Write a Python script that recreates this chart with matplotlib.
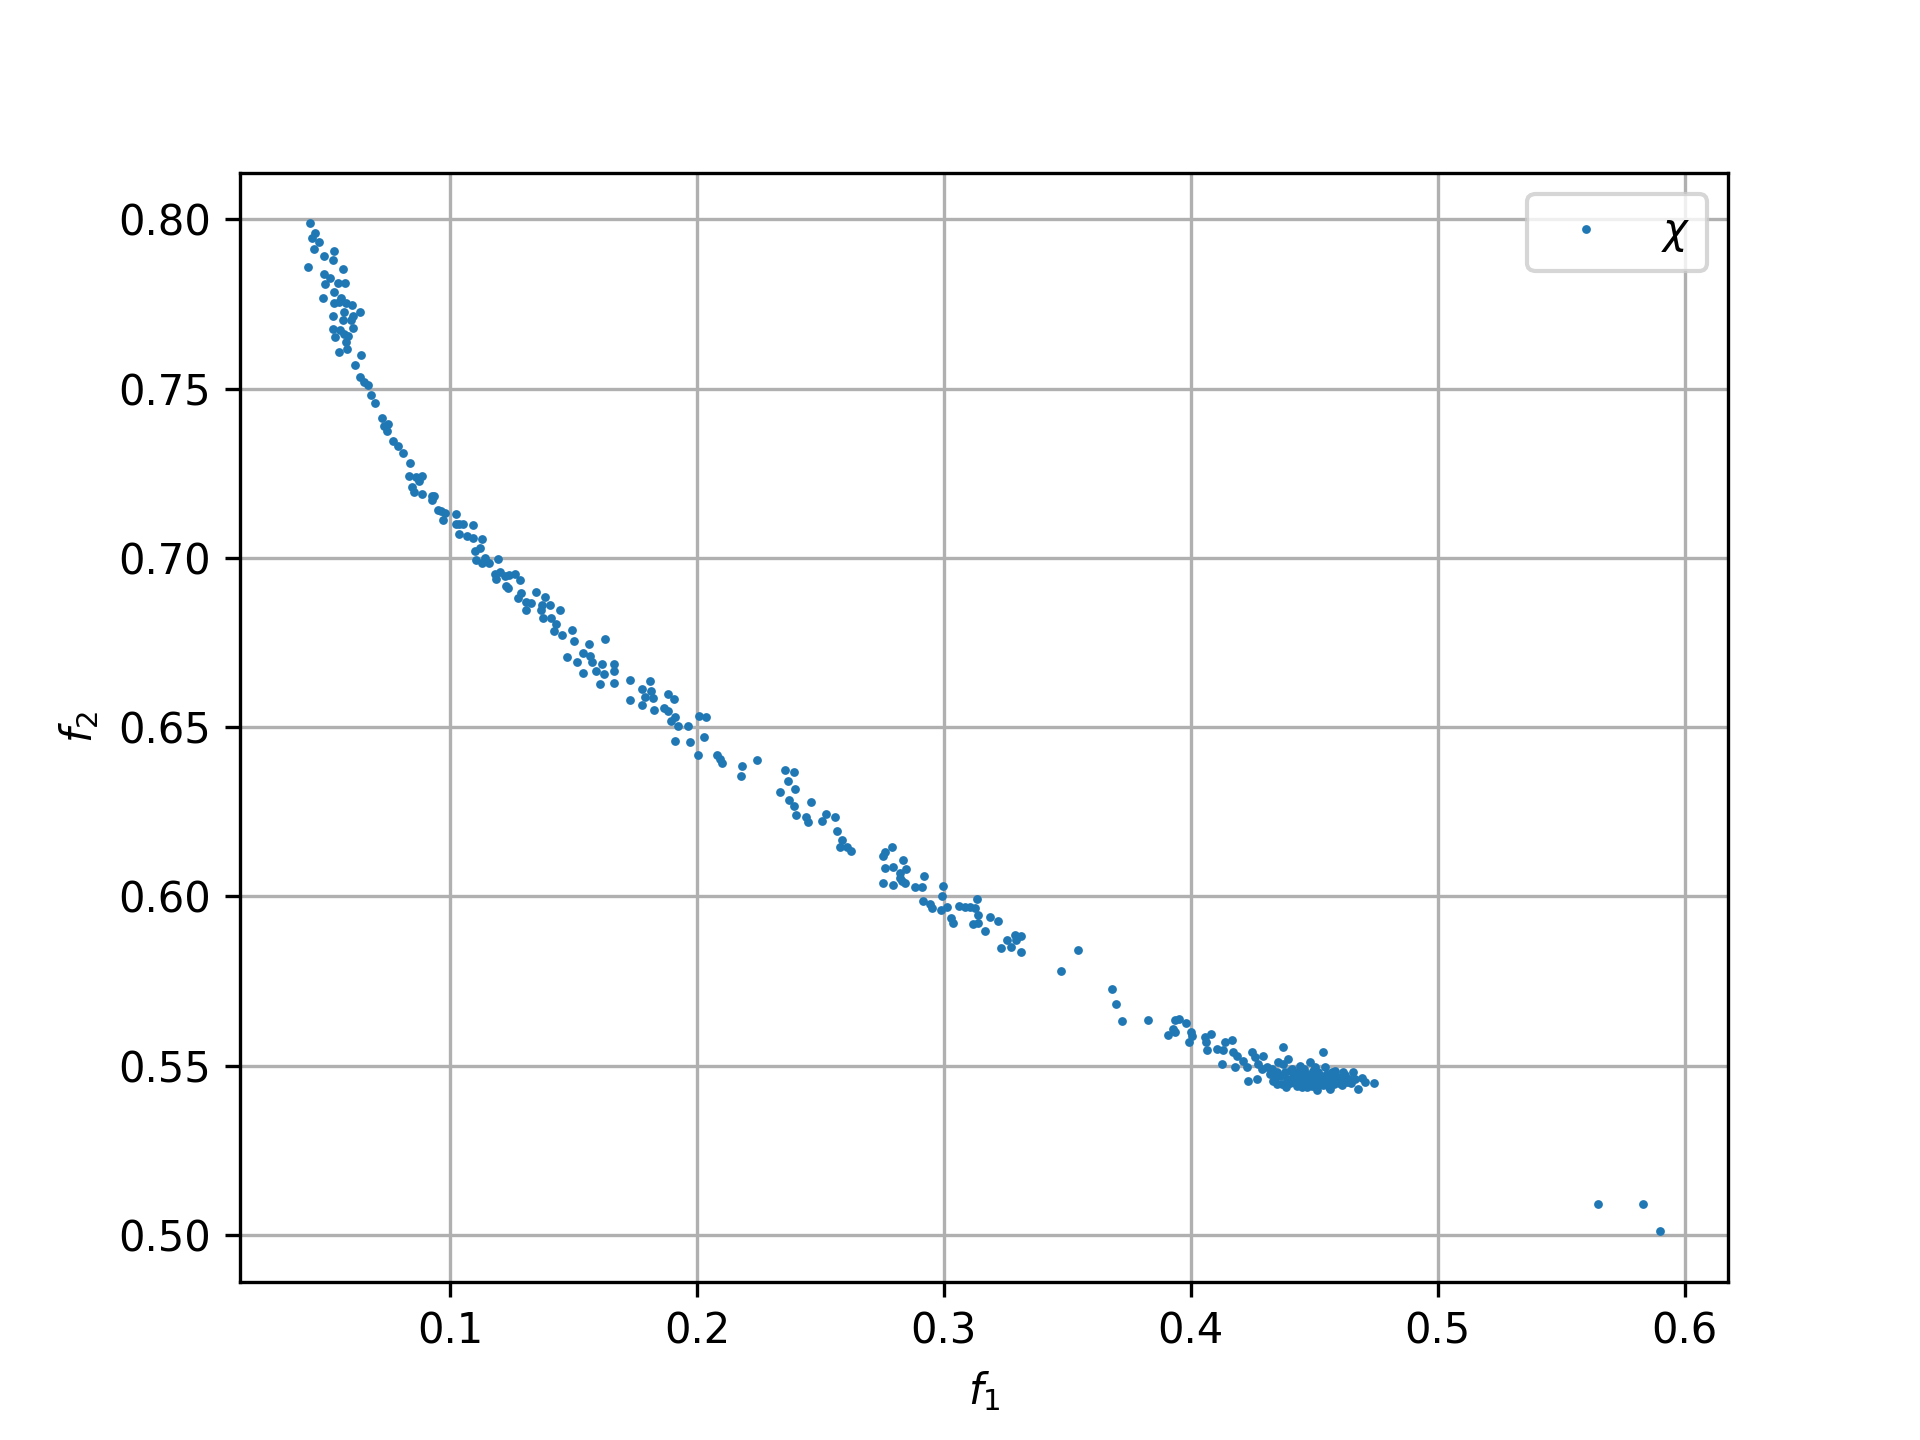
import matplotlib
matplotlib.use("Agg")
from matplotlib import pyplot as plt
import numpy as np

# f1 / f2 values, roughly from top-left to bottom-right
f1_top = [0.0434, 0.0454, 0.0441, 0.0471, 0.0450, 0.0531, 0.0491, 0.0527, 0.0423, 0.0565,
          0.0491, 0.0514, 0.0495, 0.0545, 0.0576, 0.0529, 0.0487, 0.0558, 0.0531, 0.0552,
          0.0579, 0.0603, 0.0572, 0.0635, 0.0527, 0.0606, 0.0565, 0.0599, 0.0525, 0.0554,
          0.0606, 0.0534, 0.0572, 0.0585, 0.0579, 0.0552, 0.0581, 0.0639, 0.0616, 0.0637,
          0.0653, 0.0667, 0.0680]
f2_top = [0.7989, 0.7960, 0.7945, 0.7933, 0.7912, 0.7908, 0.7892, 0.7879, 0.7859, 0.7853,
          0.7839, 0.7826, 0.7809, 0.7813, 0.7813, 0.7786, 0.7767, 0.7767, 0.7752, 0.7757,
          0.7754, 0.7747, 0.7727, 0.7727, 0.7716, 0.7714, 0.7702, 0.7702, 0.7676, 0.7673,
          0.7678, 0.7653, 0.7661, 0.7655, 0.7638, 0.7608, 0.7618, 0.7601, 0.7569, 0.7536,
          0.7519, 0.7512, 0.7480]

f1_upper = [0.0697, 0.0724, 0.0734, 0.0747, 0.0743, 0.0770, 0.0788, 0.0811, 0.0838, 0.0835,
            0.0862, 0.0886, 0.0873, 0.0846, 0.0855, 0.0885, 0.0926, 0.0936, 0.0927, 0.0950,
            0.0963, 0.0981, 0.0970, 0.1022, 0.1022, 0.1038, 0.1051, 0.1092, 0.1035, 0.1067,
            0.1092, 0.1128, 0.1122, 0.1099, 0.1103, 0.1142, 0.1193, 0.1130, 0.1159, 0.1180,
            0.1203, 0.1186, 0.1224, 0.1240, 0.1261, 0.1285,
            0.1225, 0.1234, 0.1275, 0.1288, 0.1309, 0.1329, 0.1349, 0.1306]
f2_upper = [0.7458, 0.7414, 0.7391, 0.7396, 0.7375, 0.7347, 0.7332, 0.7309, 0.7280, 0.7241,
            0.7238, 0.7243, 0.7228, 0.7211, 0.7195, 0.7188, 0.7183, 0.7183, 0.7172, 0.7141,
            0.7139, 0.7134, 0.7111, 0.7129, 0.7101, 0.7099, 0.7099, 0.7097, 0.7070, 0.7065,
            0.7058, 0.7057, 0.7030, 0.7022, 0.6995, 0.7000, 0.6998, 0.6985, 0.6985, 0.6953,
            0.6959, 0.6939, 0.6946, 0.6949, 0.6953, 0.6936,
            0.6916, 0.6911, 0.6881, 0.6896, 0.6871, 0.6866, 0.6899, 0.6846]

f1_mid = [0.1386, 0.1373, 0.1403, 0.1369, 0.1376, 0.1409, 0.1427, 0.1447, 0.1419, 0.1454,
          0.1493, 0.1500, 0.1562, 0.1629, 0.1474, 0.1513, 0.1538, 0.1565, 0.1574, 0.1540,
          0.1589, 0.1616, 0.1662, 0.1662, 0.1625, 0.1609, 0.1662, 0.1727, 0.1727, 0.1777,
          0.1808, 0.1815, 0.1788, 0.1821, 0.1777, 0.1824, 0.1882, 0.1906, 0.1865, 0.1882,
          0.1909, 0.1896, 0.1923, 0.1963, 0.2008, 0.2035, 0.2027, 0.1909, 0.1970,
          0.2004, 0.2081, 0.2092, 0.2102, 0.2184, 0.2244, 0.2180]
f2_mid = [0.6884, 0.6862, 0.6862, 0.6847, 0.6824, 0.6824, 0.6804, 0.6845, 0.6783, 0.6773,
          0.6788, 0.6755, 0.6746, 0.6761, 0.6708, 0.6694, 0.6718, 0.6711, 0.6694, 0.6661,
          0.6667, 0.6687, 0.6687, 0.6667, 0.6656, 0.6627, 0.6631, 0.6639, 0.6580, 0.6612,
          0.6636, 0.6606, 0.6590, 0.6587, 0.6565, 0.6550, 0.6598, 0.6583, 0.6558, 0.6547,
          0.6530, 0.6517, 0.6505, 0.6505, 0.6533, 0.6530, 0.6471, 0.6458, 0.6456,
          0.6419, 0.6419, 0.6406, 0.6394, 0.6384, 0.6404, 0.6355]

f1_lower = [0.2355, 0.2392, 0.2369, 0.2335, 0.2396, 0.2373, 0.2392, 0.2461, 0.2400, 0.2440,
            0.2450, 0.2507, 0.2521, 0.2558, 0.2567, 0.2589, 0.2578, 0.2608, 0.2623, 0.2754,
            0.2761, 0.2788, 0.2835, 0.2761, 0.2794, 0.2848, 0.2821, 0.2821, 0.2832, 0.2844,
            0.2919, 0.2754, 0.2794, 0.2882, 0.2913, 0.2997, 0.2994,
            0.2917, 0.2944, 0.2950, 0.2988, 0.3011, 0.3063, 0.3085, 0.3106, 0.3126, 0.3135,
            0.3140, 0.3029, 0.3038, 0.3119, 0.3140, 0.3167,
            0.3186, 0.3220, 0.3256, 0.3287, 0.3291, 0.3314, 0.3231, 0.3270, 0.3312, 0.3544,
            0.3474, 0.3679, 0.3697, 0.3722]
f2_lower = [0.6375, 0.6367, 0.6342, 0.6310, 0.6316, 0.6286, 0.6268, 0.6278, 0.6241, 0.6236,
            0.6219, 0.6222, 0.6245, 0.6235, 0.6194, 0.6166, 0.6147, 0.6147, 0.6134, 0.6120,
            0.6130, 0.6146, 0.6108, 0.6085, 0.6088, 0.6082, 0.6068, 0.6055, 0.6045, 0.6040,
            0.6060, 0.6040, 0.6033, 0.6028, 0.6028, 0.6031, 0.6001,
            0.5986, 0.5979, 0.5966, 0.5961, 0.5969, 0.5973, 0.5969, 0.5969, 0.5966, 0.5991,
            0.5944, 0.5936, 0.5921, 0.5919, 0.5921, 0.5899,
            0.5939, 0.5926, 0.5870, 0.5885, 0.5870, 0.5882, 0.5847, 0.5852, 0.5835, 0.5842,
            0.5781, 0.5727, 0.5681, 0.5631]

f1_tail = [0.3828, 0.3936, 0.3954, 0.3981, 0.3930, 0.3936, 0.3907, 0.4000, 0.4004, 0.3994,
           0.4058, 0.4081, 0.4062, 0.4065, 0.4108, 0.4130, 0.4139, 0.4126,
           0.4166, 0.4173, 0.4186, 0.4179, 0.4213, 0.4227, 0.4233, 0.4247, 0.4260, 0.4294,
           0.4274, 0.4287, 0.4267, 0.4308, 0.4321, 0.4335, 0.4348, 0.4355, 0.4375, 0.4375,
           0.4395, 0.4402, 0.4416, 0.4429, 0.4443, 0.4449, 0.4463, 0.4470, 0.4483, 0.4497,
           0.4510, 0.4510, 0.4524, 0.4537, 0.4544, 0.4551, 0.4564, 0.4564, 0.4585, 0.4605,
           0.4618, 0.4632, 0.4659, 0.4666, 0.4679, 0.4693, 0.4706, 0.4743,
           0.4330, 0.4360, 0.4380, 0.4390, 0.4410, 0.4420, 0.4430, 0.4440, 0.4455, 0.4460,
           0.4470, 0.4480, 0.4490, 0.4500, 0.4505, 0.4515, 0.4520, 0.4530, 0.4540, 0.4550,
           0.4560, 0.4570, 0.4575, 0.4590, 0.4600, 0.4610, 0.4625, 0.4640, 0.4400, 0.4370,
           0.4350, 0.4340, 0.4440, 0.4465,
           0.4385, 0.4415, 0.4435, 0.4452, 0.4478, 0.4493, 0.4512, 0.4535, 0.4558, 0.4580,
           0.4612, 0.4650]
f2_tail = [0.5634, 0.5636, 0.5639, 0.5627, 0.5609, 0.5599, 0.5592, 0.5599, 0.5589, 0.5571,
           0.5584, 0.5594, 0.5569, 0.5545, 0.5550, 0.5545, 0.5569, 0.5505,
           0.5576, 0.5540, 0.5530, 0.5495, 0.5515, 0.5495, 0.5455, 0.5540, 0.5525, 0.5530,
           0.5505, 0.5490, 0.5460, 0.5495, 0.5475, 0.5455, 0.5446, 0.5510, 0.5505, 0.5556,
           0.5520, 0.5485, 0.5465, 0.5441, 0.5500, 0.5475, 0.5455, 0.5436, 0.5510, 0.5485,
           0.5465, 0.5428, 0.5455, 0.5540, 0.5495, 0.5475, 0.5446, 0.5431, 0.5485, 0.5465,
           0.5480, 0.5451, 0.5480, 0.5460, 0.5431, 0.5465, 0.5451, 0.5449,
           0.5490, 0.5470, 0.5480, 0.5460, 0.5490, 0.5475, 0.5455, 0.5485, 0.5465, 0.5490,
           0.5475, 0.5460, 0.5470, 0.5450, 0.5495, 0.5480, 0.5445, 0.5470, 0.5460, 0.5450,
           0.5470, 0.5480, 0.5455, 0.5470, 0.5450, 0.5462, 0.5472, 0.5462, 0.5450, 0.5445,
           0.5480, 0.5465, 0.5445, 0.5440,
           0.5438, 0.5452, 0.5468, 0.5437, 0.5448, 0.5440, 0.5452, 0.5443, 0.5438, 0.5446,
           0.5443, 0.5448]

# the three outliers bottom right
f1_out = [0.5648, 0.5831, 0.5902]
f2_out = [0.5092, 0.5092, 0.5011]

f1 = np.array(f1_top + f1_upper + f1_mid + f1_lower + f1_tail + f1_out)
f2 = np.array(f2_top + f2_upper + f2_mid + f2_lower + f2_tail + f2_out)

fig, ax = plt.subplots(figsize=(6.4, 4.8), dpi=300)
ax.plot(f1, f2, 'o', markersize=1.7, markeredgewidth=0.4, label=r'$\chi$')
ax.set_xlabel(r'$f_1$')
ax.set_ylabel(r'$f_2$')
ax.grid(True)
ax.legend(loc='upper right')

fig.savefig("out.png", dpi=300)
